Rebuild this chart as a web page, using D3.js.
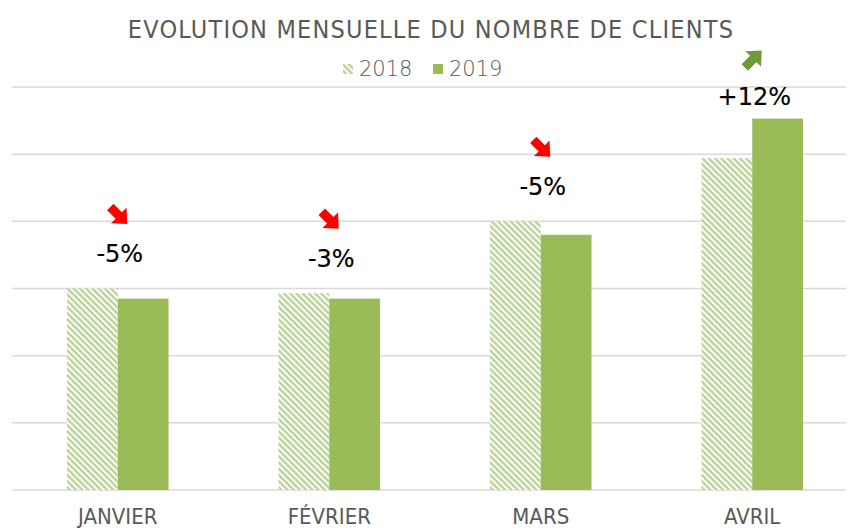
<!DOCTYPE html>
<html>
<head>
<meta charset="utf-8">
<script src="https://cdn.jsdelivr.net/npm/d3@7"></script>
<style>
  body { margin: 0; background: #fff; }
  svg { display: block; }
</style>
</head>
<body>
<svg id="chart" width="848" height="528"></svg>
<script>
const months = ["JANVIER", "FÉVRIER", "MARS", "AVRIL"];
const clients2018 = [300, 293, 400, 494];
const clients2019 = [285, 285, 380, 553];
const variations = ["-5%", "-3%", "-5%", "+12%"];
const yTicks = [0, 100, 200, 300, 400, 500, 600];

const width = 848;
const height = 528;
const margin = { top: 87, right: 0, bottom: 38, left: 12 };

const svg = d3.select("#chart");

// hatch for 2018
const defs = svg.append("defs");
defs
  .append("pattern")
  .attr("id", "hatch")
  .attr("patternUnits", "userSpaceOnUse")
  .attr("width", 4.4)
  .attr("height", 4.4)
  .attr("patternTransform", "rotate(45)")
  .call((p) => {
    p.append("rect").attr("width", 4.4).attr("height", 4.4).attr("fill", "#fff");
    p.append("rect").attr("width", 4.4).attr("height", 2.5).attr("fill", "#bdd59b");
  });

const xScale = d3
  .scaleBand()
  .domain(months)
  .range([margin.left, width + 10])
  .paddingInner(0.52)
  .paddingOuter(0.26);

const xSub = d3.scaleBand().domain(["2018", "2019"]).range([0, xScale.bandwidth()]);

const yScale = d3
  .scaleLinear()
  .domain([0, 600])
  .range([height - margin.bottom, margin.top]);

// gridlines
svg
  .append("g")
  .attr("class", "grid")
  .selectAll("line")
  .data(yTicks)
  .join("line")
  .attr("x1", margin.left)
  .attr("x2", width - 2)
  .attr("y1", (d) => yScale(d))
  .attr("y2", (d) => yScale(d))
  .attr("stroke", "#d9d9d9")
  .attr("stroke-width", 1.5);

// bars
const groups = svg
  .append("g")
  .selectAll("g")
  .data(months)
  .join("g")
  .attr("transform", (d) => `translate(${xScale(d)},0)`);

groups
  .append("rect")
  .attr("x", xSub("2018"))
  .attr("width", xSub.bandwidth())
  .attr("y", (d, i) => yScale(clients2018[i]))
  .attr("height", (d, i) => yScale(0) - yScale(clients2018[i]))
  .attr("fill", "url(#hatch)");

groups
  .append("rect")
  .attr("x", xSub("2019"))
  .attr("width", xSub.bandwidth())
  .attr("y", (d, i) => yScale(clients2019[i]))
  .attr("height", (d, i) => yScale(0) - yScale(clients2019[i]))
  .attr("fill", "#9bbb59");

// x axis labels
const xAxis = svg
  .append("g")
  .attr("transform", `translate(0,${yScale(0)})`)
  .call(d3.axisBottom(xScale).tickSize(0).tickPadding(18));
xAxis.select(".domain").remove();
xAxis
  .selectAll("text")
  .attr("font-family", "'DejaVu Sans Condensed', sans-serif")
  .attr("font-size", 22)
  .attr("fill", "#595959");

// variation labels + arrows
const arrowPath = "M-12,-4.5 L0,-4.5 L0,-11 L12,0 L0,11 L0,4.5 L-12,4.5 Z";

groups.each(function (d, i) {
  const g = d3.select(this);
  const cx = xScale.bandwidth() / 2 + 2;
  const top = yScale(Math.max(clients2018[i], clients2019[i]));
  const labelY = Math.max(top - 35, 97);
  const up = clients2019[i] > clients2018[i];

  g.append("text")
    .attr("x", cx)
    .attr("y", labelY)
    .attr("dy", "0.35em")
    .attr("text-anchor", "middle")
    .attr("font-family", "'DejaVu Sans', sans-serif")
    .attr("font-size", 24)
    .attr("stroke", "#000")
    .attr("stroke-width", 0.2)
    .attr("fill", "#000")
    .text(variations[i]);

  g.append("path")
    .attr("d", arrowPath)
    .attr("transform", `translate(${cx - 1},${labelY - 38}) rotate(${up ? -45 : 45})`)
    .attr("fill", up ? "#6f9a3a" : "#ff0000");
});

// title
svg
  .append("text")
  .attr("x", 431)
  .attr("y", 38)
  .attr("text-anchor", "middle")
  .attr("font-family", "'DejaVu Sans Condensed', sans-serif")
  .attr("font-size", 25)
  .attr("letter-spacing", 1.2)
  .attr("fill", "#595959")
  .text("EVOLUTION MENSUELLE DU NOMBRE DE CLIENTS");

// legend
const legend = svg.append("g").attr("transform", "translate(343,69)");
const legendItems = [
  { label: "2018", fill: "url(#hatch)", x: 0 },
  { label: "2019", fill: "#9bbb59", x: 90 },
];
const li = legend
  .selectAll("g")
  .data(legendItems)
  .join("g")
  .attr("transform", (d) => `translate(${d.x},0)`);
li.append("rect").attr("x", 0).attr("y", -5).attr("width", 10).attr("height", 10).attr("fill", (d) => d.fill);
li.append("text")
  .attr("x", 16)
  .attr("dy", "0.35em")
  .attr("font-family", "'DejaVu Sans', sans-serif")
  .attr("font-weight", 300)
  .attr("font-size", 21)
  .attr("fill", "#595959")
  .text((d) => d.label);
</script>
</body>
</html>
